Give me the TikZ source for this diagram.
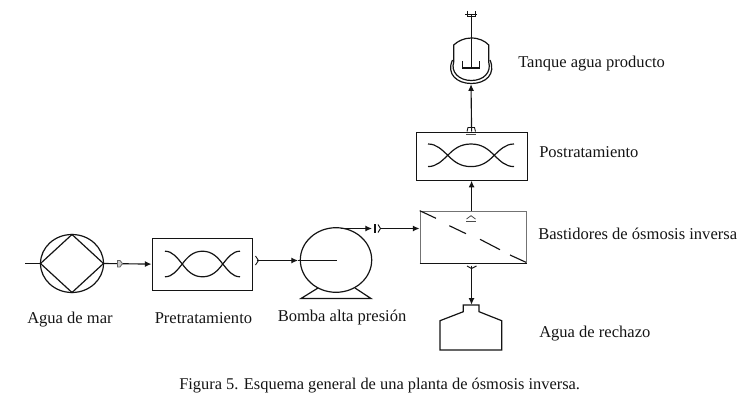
\documentclass[tikz,border=0pt]{standalone}
\usepackage{fontspec}
\setmainfont{Liberation Serif}
\usetikzlibrary{arrows.meta}
\definecolor{ink}{gray}{0.08}
\tikzset{
 x=0.75pt,y=-0.75pt,
 flow/.style={line width=0.85pt,-{Latex[length=5pt,width=4.5pt]}},
 boxnode/.style={draw=ink,line width=0.9pt,inner sep=0pt,anchor=north west},
 lbl/.style={font=\fontsize{12.4}{14}\selectfont,text=ink,inner sep=0pt,anchor=base west},
 capt/.style={font=\fontsize{12.3}{14}\selectfont,text=ink,inner sep=0pt,anchor=base west},
}
% exchanger symbol: centre (#1,#2), half width #3, half height #4
\newcommand{\exchcurve}[5]{% #5 = +1 / -1 flips vertically
 \draw[line width=0.9pt] ({#1-#3},{#2-#5*#4}) .. controls ({#1-#3*0.8},{#2-#5*#4}) and ({#1-#3*0.68},{#2-#5*#4*0.5}) .. ({#1-#3*0.54},{#2})
   .. controls ({#1-#3*0.4},{#2+#5*#4*0.55}) and ({#1-#3*0.25},{#2+#5*#4}) .. (#1,{#2+#5*#4})
   .. controls ({#1+#3*0.25},{#2+#5*#4}) and ({#1+#3*0.4},{#2+#5*#4*0.55}) .. ({#1+#3*0.54},{#2})
   .. controls ({#1+#3*0.68},{#2-#5*#4*0.5}) and ({#1+#3*0.8},{#2-#5*#4}) .. ({#1+#3},{#2-#5*#4});
}
\newcommand{\exch}[4]{\exchcurve{#1}{#2}{#3}{#4}{1}\exchcurve{#1}{#2}{#3}{#4}{-1}}
\begin{document}
\begin{tikzpicture}[color=ink]
\useasboundingbox (0,0) rectangle (748,403);

% boxes
\node[boxnode,minimum width=75pt,minimum height=39pt] (pre) at (151.5,237.5) {};
\node[boxnode,minimum width=83.25pt,minimum height=36pt] (post) at (415.5,131.5) {};
\node[boxnode,draw=black!55,minimum width=79.5pt,minimum height=39pt] (bast) at (419.5,210.5) {};
\draw[line width=0.9pt] (bast.south west) -- (bast.south east);

% exchanger symbols
\exch{202.5}{264}{37.5}{12.8}
\exch{471}{155.3}{43}{11.3}

% sea-water pump
\draw[line width=0.9pt] (72,263.5) ellipse [x radius=31.5,y radius=29];
\coordinate (seaIn) at (25,263.5);
\coordinate (seaW) at (40.5,263.5);
\coordinate (seaE) at (103.5,263.5);
\draw[line width=0.9pt] (seaW) -- (72,234.5) -- (seaE) -- (72,292.5) -- cycle;
\draw[line width=0.9pt] (seaIn) -- (seaW);
\draw[flow] (seaE) -- (pre.west);
\draw[black!60,fill=black!20,line width=0.6pt] (117.5,260.5) -- (117.5,267) -- (120,267) -- (122.5,263.5) -- (120,260.5) -- cycle;

% main pump
\draw[line width=0.9pt] (336,260) ellipse [x radius=35.7,y radius=32.3];
\coordinate (pumpC) at (336.7,260.5);
\coordinate (preOut) at (256.7,260.5);
\coordinate (pumpMid) at (298,260.5);
\coordinate (pumpTop) at (341,228.5);
\coordinate (valveL) at (372,228.5);
\coordinate (valveR) at (380,228.5);
\draw[line width=0.9pt] (318,288) -- (301,298.5) -- (371,298.5) -- (355,288);
\draw[flow] (preOut) -- (pumpMid);
\draw[line width=0.85pt] (pumpMid) -- (pumpC);
\draw[line width=0.7pt] (255.5,256) -- (258.5,260.5) -- (255.5,265);
\draw[flow] (pumpTop) -- (valveL);
\draw[line width=0.9pt] (375,224) -- (375,233);
\draw[line width=0.7pt] (378,224.5) -- (380.5,228.5) -- (378,232.5);
\draw[flow] (valveR) -- (bast.west |- valveR);

% membrane
\draw[line width=0.85pt] (419.7,210.7) -- (436,218.3);
\draw[line width=0.85pt] (449.3,225.7) -- (466,233.7);
\draw[line width=0.85pt] (480,239.3) -- (500,249.7);
\draw[line width=0.85pt] (510,255) -- (526,262.3);

% bastidores -> post
\draw[flow] (post.south |- bast.north) -- (post.south);
\draw[line width=0.6pt,black!70] (466.5,219) -- (471,215.7) -- (475.5,219);
\draw[line width=0.8pt,black!70] (466,221.8) -- (476,221.8);

% post -> tank
\node[inner sep=0pt,minimum size=0pt] (tankBase) at (471,84) {};
\draw[flow] (post.north) -- (tankBase);
\draw[line width=0.7pt] (467,131.5) -- (468,127.5) -- (474.5,127.5) -- (475.5,131.5);
\draw[line width=0.8pt,black!70] (466,134.8) -- (476,134.8);

% product tank
\draw[line width=0.9pt] (453.7,62) -- (453.7,45) .. controls (458,41) and (464,38) .. (471.3,38) .. controls (479,38) and (485,41) .. (488.7,45) -- (488.7,62);
\draw[line width=0.9pt] (453.7,62) .. controls (450.5,72) and (459,80.5) .. (471.3,80.5) .. controls (484,80.5) and (491.5,72) .. (488.7,62);
\draw[line width=0.9pt] (452.5,60) .. controls (446,74) and (457,83.5) .. (471.3,83.5) .. controls (486,83.5) and (496,74) .. (490,60);
\draw[line width=0.9pt] (471.5,14) -- (471.5,68);
\draw[line width=0.9pt] (462.7,61) -- (462.7,68) -- (479.3,68) -- (479.3,61);
\draw[line width=0.7pt] (465,14.5) -- (477,14.5);
\draw[line width=0.7pt] (467.5,11) -- (467.5,16) -- (475,16) -- (475,11);

% reject
\coordinate (rejIn) at (471.5,265.5);
\node[inner sep=0pt,minimum size=0pt] (rejTop) at (471.5,305) {};
\draw[flow] (rejIn) -- (rejTop);
\draw[line width=0.7pt] (467,266) -- (471.5,268.5) -- (476.5,266);
\draw[line width=0.9pt] (463.3,311.7) -- (463.3,305) -- (479,305) -- (479,311.7) -- (501.7,320.7) -- (501.7,350) -- (440,350) -- (440,320.7) -- cycle;

% labels
\node[lbl] (l1) at (27,323) {Agua de mar};
\node[lbl] (l2) at (154.5,323) {Pretratamiento};
\node[lbl] (l3) at (277.5,321) {Bomba alta presión};
\node[lbl] (l4) at (539,337) {Agua de rechazo};
\node[lbl] (l5) at (538,239) {Bastidores de ósmosis inversa};
\node[lbl] (l6) at (539,157) {Postratamiento};
\node[lbl] (l7) at (518,67) {Tanque agua producto};
\node[capt] (l8) at (179,389) {Figura 5. Esquema general de una planta de ósmosis inversa.};
\end{tikzpicture}
\end{document}
